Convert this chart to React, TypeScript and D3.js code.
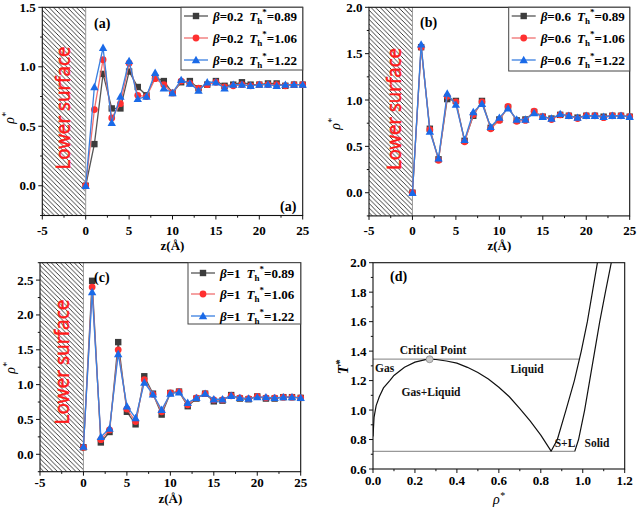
import React from 'react';
import * as d3 from 'd3';

// ---------- data ----------
const zValues = [0, 1, 2, 3, 4, 5, 6, 7, 8, 9, 10, 11, 12, 13, 14, 15, 16, 17, 18, 19, 20, 21, 22, 23, 24, 25];

const a089 = [0, 0.35, 0.94, 0.65, 0.65, 0.96, 0.83, 0.76, 0.91, 0.88, 0.78, 0.87, 0.88, 0.82, 0.85, 0.88, 0.84, 0.85, 0.87, 0.85, 0.85, 0.86, 0.86, 0.84, 0.85, 0.85];
const a106 = [0, 0.64, 1.06, 0.57, 0.69, 1.03, 0.76, 0.75, 0.90, 0.85, 0.78, 0.88, 0.86, 0.82, 0.85, 0.87, 0.83, 0.84, 0.85, 0.84, 0.85, 0.85, 0.85, 0.84, 0.85, 0.85];
const a122 = [0, 0.83, 1.16, 0.53, 0.75, 1.05, 0.73, 0.75, 0.95, 0.82, 0.78, 0.89, 0.86, 0.80, 0.87, 0.87, 0.82, 0.85, 0.85, 0.84, 0.85, 0.85, 0.84, 0.85, 0.85, 0.85];

const b089 = [0, 1.57, 0.69, 0.36, 1.01, 0.99, 0.56, 0.83, 0.99, 0.70, 0.79, 0.92, 0.78, 0.79, 0.87, 0.82, 0.80, 0.84, 0.83, 0.81, 0.83, 0.83, 0.82, 0.83, 0.83, 0.82];
const b106 = [0, 1.57, 0.68, 0.35, 1.04, 0.98, 0.55, 0.84, 0.98, 0.69, 0.78, 0.93, 0.77, 0.78, 0.88, 0.82, 0.79, 0.84, 0.83, 0.80, 0.83, 0.83, 0.81, 0.83, 0.83, 0.82];
const b122 = [0, 1.60, 0.66, 0.37, 1.07, 0.95, 0.57, 0.87, 0.96, 0.71, 0.81, 0.91, 0.79, 0.79, 0.86, 0.82, 0.80, 0.85, 0.83, 0.81, 0.83, 0.83, 0.82, 0.83, 0.83, 0.82];

const c089 = [0.10, 2.49, 0.17, 0.32, 1.61, 0.61, 0.43, 1.12, 0.87, 0.57, 0.88, 0.90, 0.69, 0.80, 0.87, 0.76, 0.77, 0.85, 0.80, 0.79, 0.83, 0.80, 0.80, 0.82, 0.82, 0.81];
const c106 = [0.10, 2.40, 0.21, 0.35, 1.50, 0.65, 0.47, 1.07, 0.86, 0.61, 0.88, 0.90, 0.71, 0.81, 0.87, 0.78, 0.78, 0.84, 0.81, 0.80, 0.83, 0.81, 0.81, 0.82, 0.82, 0.81];
const c122 = [0.11, 2.33, 0.25, 0.37, 1.44, 0.69, 0.52, 1.03, 0.86, 0.64, 0.87, 0.89, 0.74, 0.81, 0.87, 0.79, 0.79, 0.84, 0.81, 0.80, 0.82, 0.82, 0.81, 0.82, 0.82, 0.81];

const thLabels = ['0.89', '1.06', '1.22'];
const betaLabels = ['0.2', '0.6', '1'];
const zTicks = [-5, 0, 5, 10, 15, 20, 25];

// phase diagram (d)
const coexRho = [0, 0.005, 0.015, 0.03, 0.05, 0.08, 0.1, 0.15, 0.2, 0.25, 0.27, 0.3, 0.35, 0.4, 0.45, 0.5, 0.55, 0.6, 0.65, 0.7, 0.75, 0.8, 0.85];
const coexT = [0.82, 0.95, 1.03, 1.09, 1.15, 1.2, 1.235, 1.29, 1.325, 1.342, 1.345, 1.343, 1.333, 1.318, 1.29, 1.255, 1.21, 1.155, 1.09, 1.01, 0.925, 0.83, 0.72];
const liqRho = [0.849, 0.879, 0.92, 0.96, 0.993, 1.022, 1.046, 1.07];
const liqT = [0.72, 0.8, 1.0, 1.2, 1.4, 1.6, 1.8, 2.0];
const solRho = [0.962, 0.98, 1.009, 1.033, 1.057, 1.081, 1.108, 1.136];
const solT = [0.72, 0.8, 1.0, 1.2, 1.4, 1.6, 1.8, 2.0];
const criticalPoint = [0.27, 1.345];
const tripleT = 0.72;
const criticalT = 1.345;
const dXTicks = [0, 0.2, 0.4, 0.6, 0.8, 1.0, 1.2];
const dYTicks = [0.6, 0.8, 1.0, 1.2, 1.4, 1.6, 1.8, 2.0];

// ---------- styles ----------
const SERIF = '"Liberation Serif", "Times New Roman", serif';
const SANS = '"Noto Sans", "Liberation Sans", sans-serif';
const lineColors = ['#555555', '#f07070', '#3a7fe0'];
const markColors = ['#3c3c3c', '#ff3030', '#1a6ae8'];

function Marker({ kind, x, y }: { kind: number; x: number; y: number }) {
  const c = markColors[kind];
  if (kind === 0) return <rect x={x - 3.2} y={y - 3.2} width={6.4} height={6.4} fill={c} />;
  if (kind === 1) return <circle cx={x} cy={y} r={3.4} fill={c} />;
  return <path d={`M${x},${y - 4.2} L${x + 4.2},${y + 3.2} L${x - 4.2},${y + 3.2} Z`} fill={c} />;
}

type PanelCfg = {
  id: string;
  xr: [number, number];
  yr: [number, number];
  yDomain: [number, number];
  yTicks: number[];
  series: number[][];
  beta: string;
  legend: { x0: number; x1: number; y0: number; y1: number; rows: number[] };
  label: { x: number; y: number };
  label2?: { x: number; y: number };
  lower: { x: number; y: number; len: number };
  yLabel: { x: number; y: number };
  xLabelY: number;
  xTickDy: number;
};

function DensityPanel({ cfg }: { cfg: PanelCfg }) {
  const x = d3.scaleLinear().domain([-5, 25]).range(cfg.xr);
  const y = d3.scaleLinear().domain(cfg.yDomain).range(cfg.yr);
  const [L, R] = cfg.xr;
  const [B, T] = cfg.yr;
  const minorX = d3.range(-5, 25.01, 2.5).filter((v) => v % 5 !== 0);
  const minorY = d3.range(cfg.yDomain[0], cfg.yDomain[1] + 0.001, 0.25).filter((v) => Math.abs((v * 2) % 1) > 0.01);
  const line = d3.line<number>().x((_, i) => x(zValues[i])).y((d) => y(d));
  const pid = 'hatch-' + cfg.id;
  const lg = cfg.legend;
  const s = 4.6;
  return (
    <g>
      <defs>
        <pattern id={pid} patternUnits="userSpaceOnUse" width={s} height={s}>
          <path d={`M-1,-1 L${s + 1},${s + 1} M${s - 1},-1 L${s + 1},1 M-1,${s - 1} L1,${s + 1}`} stroke="#1a1a1a" strokeWidth={0.85} />
        </pattern>
      </defs>
      <rect x={x(-5)} y={T} width={x(0) - x(-5)} height={B - T} fill={`url(#${pid})`} />
      <line x1={x(0)} x2={x(0)} y1={T} y2={B} stroke="#999" strokeWidth={1} />
      <text
        transform={`translate(${cfg.lower.x},${cfg.lower.y}) rotate(-90)`}
        textAnchor="middle"
        fontFamily={SANS}
        fontSize={20}
        fill="#ff1a1a"
        stroke="#ff1a1a"
        strokeWidth={0.5}
        textLength={cfg.lower.len}
        lengthAdjust="spacingAndGlyphs"
      >
        Lower surface
      </text>
      {/* frame */}
      <rect x={L} y={T} width={R - L} height={B - T} fill="none" stroke="#111" strokeWidth={1.1} />
      {/* x ticks */}
      {zTicks.map((t) => (
        <g key={'xt' + t}>
          <line x1={x(t)} x2={x(t)} y1={B} y2={B + 4} stroke="#111" />
          <text x={x(t)} y={B + cfg.xTickDy} textAnchor="middle" fontFamily={SERIF} fontWeight="bold" fontSize={13}>
            {t}
          </text>
        </g>
      ))}
      {minorX.map((t) => (
        <line key={'xm' + t} x1={x(t)} x2={x(t)} y1={B} y2={B + 2.2} stroke="#111" />
      ))}
      {cfg.yTicks.map((t) => (
        <g key={'yt' + t}>
          <line x1={L - 4} x2={L} y1={y(t)} y2={y(t)} stroke="#111" />
          <text x={L - 6.5} y={y(t) + 4.5} textAnchor="end" fontFamily={SERIF} fontWeight="bold" fontSize={13}>
            {t.toFixed(1)}
          </text>
        </g>
      ))}
      {minorY.map((t) => (
        <line key={'ym' + t} x1={L - 2.2} x2={L} y1={y(t)} y2={y(t)} stroke="#111" />
      ))}
      {/* axis labels */}
      <text x={(L + R) / 2} y={cfg.xLabelY} textAnchor="middle" fontFamily={SERIF} fontWeight="bold" fontSize={13}>
        z(Å)
      </text>
      <text transform={`translate(${cfg.yLabel.x},${cfg.yLabel.y}) rotate(-90)`} textAnchor="middle" fontFamily={SERIF} fontStyle="italic" fontSize={14}>
        ρ<tspan dy={-5} fontSize={10}>*</tspan>
      </text>
      {/* series */}
      {cfg.series.map((sr, k) => (
        <g key={'s' + k}>
          <path d={line(sr) || ''} fill="none" stroke={lineColors[k]} strokeWidth={1.3} />
          {sr.map((v, i) => (
            <Marker key={i} kind={k} x={x(zValues[i])} y={y(v)} />
          ))}
        </g>
      ))}
      {/* legend */}
      <rect x={lg.x0} y={lg.y0} width={lg.x1 - lg.x0} height={lg.y1 - lg.y0} fill="#fff" stroke="#444" strokeWidth={1} />
      {lg.rows.map((ry, k) => (
        <g key={'lg' + k}>
          <line x1={lg.x0 + 3} x2={lg.x0 + 27} y1={ry} y2={ry} stroke={lineColors[k]} strokeWidth={1.3} />
          <Marker kind={k} x={lg.x0 + 15} y={ry} />
          <text x={lg.x0 + 32} y={ry + 4.5} fontFamily={SERIF} fontWeight="bold" fontSize={13} xmlSpace="preserve">
            <tspan fontStyle="italic">β</tspan>
            <tspan>={cfg.beta}</tspan>
            <tspan dx={6} fontStyle="italic">T</tspan>
            <tspan dy={3} fontSize={9}>h</tspan>
            <tspan dy={-9} fontSize={9}>*</tspan>
            <tspan dy={6}>={thLabels[k]}</tspan>
          </text>
        </g>
      ))}
      <text x={cfg.label.x} y={cfg.label.y} fontFamily={SERIF} fontWeight="bold" fontSize={14}>
        ({cfg.id})
      </text>
      {cfg.label2 && (
        <text x={cfg.label2.x} y={cfg.label2.y} fontFamily={SERIF} fontWeight="bold" fontSize={14}>
          ({cfg.id})
        </text>
      )}
    </g>
  );
}

function PhasePanel() {
  const xr: [number, number] = [373, 624.7];
  const yr: [number, number] = [469, 262.7];
  const x = d3.scaleLinear().domain([0, 1.2]).range(xr);
  const y = d3.scaleLinear().domain([0.6, 2.0]).range(yr);
  const [L, R] = xr;
  const [B, T] = yr;
  const minorX = [0.1, 0.3, 0.5, 0.7, 0.9, 1.1];
  const minorY = [0.7, 0.9, 1.1, 1.3, 1.5, 1.7, 1.9];
  const mk = (rs: number[], ts: number[]) =>
    d3.line<number>().x((r) => x(r)).y((_, i) => y(ts[i]))(rs) || '';
  const liqAtCrit = 0.987;
  return (
    <g>
      <defs>
        <clipPath id="dclip">
          <rect x={L} y={T} width={R - L} height={B - T} />
        </clipPath>
      </defs>
      <line x1={x(0)} x2={x(liqAtCrit)} y1={y(criticalT)} y2={y(criticalT)} stroke="#999" strokeWidth={1.2} />
      <line x1={x(0)} x2={x(solRho[0])} y1={y(tripleT)} y2={y(tripleT)} stroke="#999" strokeWidth={1.2} />
      <g clipPath="url(#dclip)" fill="none" stroke="#111" strokeWidth={1.2}>
        <path d={mk(coexRho, coexT)} />
        <path d={mk(liqRho, liqT)} />
        <path d={mk(solRho, solT)} />
      </g>
      <circle cx={x(criticalPoint[0])} cy={y(criticalPoint[1])} r={3.5} fill="#c8c8c8" stroke="#888" strokeWidth={0.8} />
      <rect x={L} y={T} width={R - L} height={B - T} fill="none" stroke="#111" strokeWidth={1.1} />
      {dXTicks.map((t) => (
        <g key={'dx' + t}>
          <line x1={x(t)} x2={x(t)} y1={B} y2={B + 4} stroke="#111" />
          <text x={x(t)} y={B + 16} textAnchor="middle" fontFamily={SERIF} fontWeight="bold" fontSize={13}>
            {t.toFixed(1)}
          </text>
        </g>
      ))}
      {minorX.map((t) => (
        <line key={'dxm' + t} x1={x(t)} x2={x(t)} y1={B} y2={B + 2.2} stroke="#111" />
      ))}
      {dYTicks.map((t) => (
        <g key={'dy' + t}>
          <line x1={L - 4} x2={L} y1={y(t)} y2={y(t)} stroke="#111" />
          <text x={L - 6.5} y={y(t) + 4.5} textAnchor="end" fontFamily={SERIF} fontWeight="bold" fontSize={13}>
            {t.toFixed(1)}
          </text>
        </g>
      ))}
      {minorY.map((t) => (
        <line key={'dym' + t} x1={L - 2.2} x2={L} y1={y(t)} y2={y(t)} stroke="#111" />
      ))}
      <text transform="translate(348,367) rotate(-90)" textAnchor="middle" fontFamily={SERIF} fontWeight="bold" fontStyle="italic" fontSize={15}>
        T<tspan dy={-5} fontSize={11}>*</tspan>
      </text>
      <text x={(L + R) / 2} y={504} textAnchor="middle" fontFamily={SERIF} fontStyle="italic" fontSize={14}>
        ρ<tspan dy={-5} fontSize={10}>*</tspan>
      </text>
      <g fontFamily={SERIF} fontWeight="bold" fontSize={11.5} fill="#111">
        <text x={433} y={354} textAnchor="middle">Critical Point</text>
        <text x={375} y={372}>Gas</text>
        <text x={527} y={373} textAnchor="middle">Liquid</text>
        <text x={431} y={396} textAnchor="middle">Gas+Liquid</text>
        <text x={565} y={447} textAnchor="middle">S+L</text>
        <text x={597} y={447} textAnchor="middle">Solid</text>
      </g>
      <text x={390} y={281} fontFamily={SERIF} fontWeight="bold" fontSize={14}>
        (d)
      </text>
    </g>
  );
}

const panels: PanelCfg[] = [
  {
    id: 'a',
    xr: [42.3, 302.7],
    yr: [215.5, 7.3],
    yDomain: [-0.25, 1.5],
    yTicks: [0, 0.5, 1.0, 1.5],
    series: [a089, a106, a122],
    beta: betaLabels[0],
    legend: { x0: 181, x1: 302.7, y0: 7.3, y1: 70, rows: [16, 38, 60] },
    label: { x: 94, y: 28 },
    label2: { x: 280, y: 211 },
    lower: { x: 69.5, y: 108, len: 123 },
    yLabel: { x: 14, y: 118 },
    xLabelY: 250,
    xTickDy: 19,
  },
  {
    id: 'b',
    xr: [369, 629.7],
    yr: [215.9, 7.3],
    yDomain: [-0.25, 2.0],
    yTicks: [0, 0.5, 1.0, 1.5, 2.0],
    series: [b089, b106, b122],
    beta: betaLabels[1],
    legend: { x0: 508.7, x1: 629.7, y0: 7.3, y1: 71, rows: [16, 38, 60] },
    label: { x: 420, y: 27 },
    lower: { x: 401, y: 109, len: 122 },
    yLabel: { x: 340, y: 124 },
    xLabelY: 250,
    xTickDy: 19,
  },
  {
    id: 'c',
    xr: [40, 300.7],
    yr: [471.7, 262.7],
    yDomain: [-0.25, 2.75],
    yTicks: [0, 0.5, 1.0, 1.5, 2.0, 2.5],
    series: [c089, c106, c122],
    beta: betaLabels[2],
    legend: { x0: 188, x1: 300.7, y0: 262.7, y1: 324, rows: [273, 294, 316] },
    label: { x: 94, y: 282 },
    lower: { x: 68.5, y: 362, len: 125 },
    yLabel: { x: 15, y: 368 },
    xLabelY: 503,
    xTickDy: 15,
  },
];

export default function App() {
  return (
    <svg
      width={638}
      height={508}
      viewBox="0 0 638 508"
      style={{ position: 'absolute', left: 0, top: 0, background: '#fff' }}
    >
      <rect x={0} y={0} width={638} height={508} fill="#fff" />
      {panels.map((p) => (
        <DensityPanel key={p.id} cfg={p} />
      ))}
      <PhasePanel />
    </svg>
  );
}
